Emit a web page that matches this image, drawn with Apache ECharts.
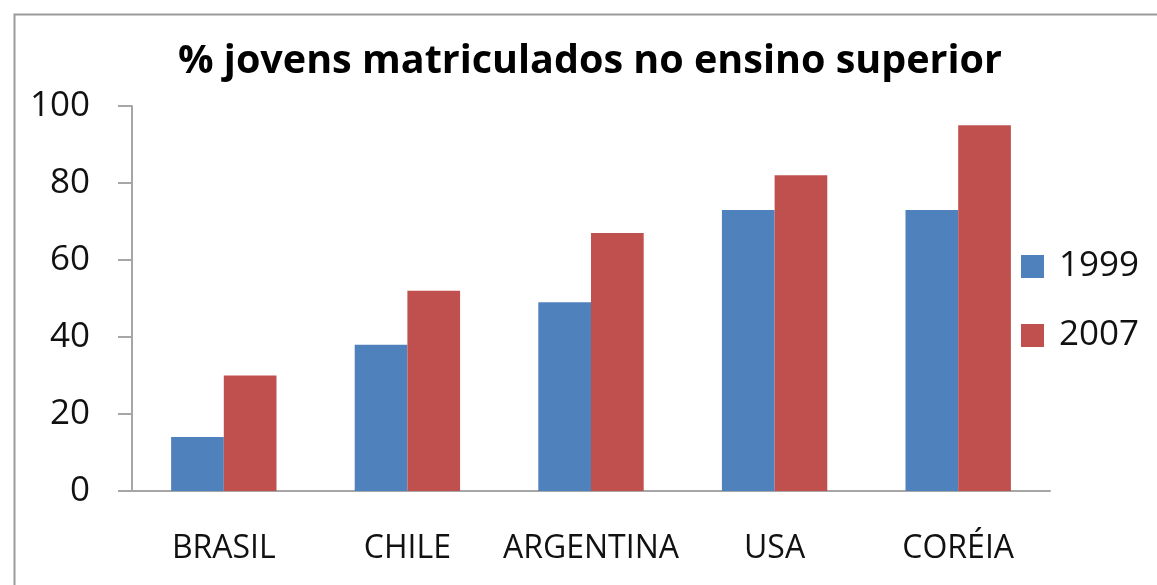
<!DOCTYPE html>
<html>
<head>
<meta charset="utf-8">
<script src="https://cdn.jsdelivr.net/npm/echarts@6/dist/echarts.min.js"></script>
<style>
html,body{margin:0;padding:0;background:#fff;}
#chart{width:1157px;height:585px;}
</style>
</head>
<body>
<div id="chart"></div>
<script>
const categories = ['BRASIL', 'CHILE', 'ARGENTINA', 'USA', 'CORÉIA'];
const values1999 = [14, 38, 49, 73, 73];
const values2007 = [30, 52, 67, 82, 95];
const seriesNames = ['1999', '2007'];
const yTicks = [0, 20, 40, 60, 80, 100];

const chart = echarts.init(document.getElementById('chart'));
const font = 'Open Sans';
chart.setOption({
  animation: false,
  backgroundColor: '#fff',
  title: {
    text: '% jovens matriculados no ensino superior',
    left: 173, top: 37,
    textStyle: {fontFamily: font, fontWeight: 'bold', fontSize: 39.5, color: '#000'}
  },
  graphic: [{
    type: 'rect', left: 12, top: 12,
    shape: {width: 1200, height: 640},
    style: {fill: 'none', stroke: '#9a9a9a', lineWidth: 2}
  }],
  legend: {
    orient: 'vertical', left: 1016, top: 244,
    itemWidth: 23, itemHeight: 23, itemGap: 34,
    icon: 'rect',
    textStyle: {fontFamily: font, fontSize: 35, color: '#111', padding: [0, 0, 0, 10]},
    data: seriesNames
  },
  grid: {left: 132, right: 107, top: 106, bottom: 94},
  xAxis: {
    type: 'category', data: categories,
    axisLine: {lineStyle: {color: '#a6a6a6', width: 2}},
    axisTick: {length: 12, lineStyle: {color: '#a6a6a6', width: 2}},
    axisLabel: {interval: 0, fontFamily: font, fontSize: 32, color: '#111', margin: 42}
  },
  yAxis: {
    type: 'value', min: yTicks[0], max: yTicks[yTicks.length - 1], interval: 20,
    splitLine: {show: false},
    axisLine: {show: true, lineStyle: {color: '#a6a6a6', width: 2}},
    axisTick: {show: true, length: 14, lineStyle: {color: '#a6a6a6', width: 2}},
    axisLabel: {fontFamily: font, fontSize: 35, color: '#111', margin: 42}
  },
  series: [
    {name: seriesNames[0], type: 'bar', data: values1999, barGap: '0%', barCategoryGap: '42.6%',
     itemStyle: {color: '#4F81BD'}},
    {name: seriesNames[1], type: 'bar', data: values2007, barGap: '0%', barCategoryGap: '42.6%',
     itemStyle: {color: '#C0504D'}}
  ]
});
</script>
</body>
</html>
